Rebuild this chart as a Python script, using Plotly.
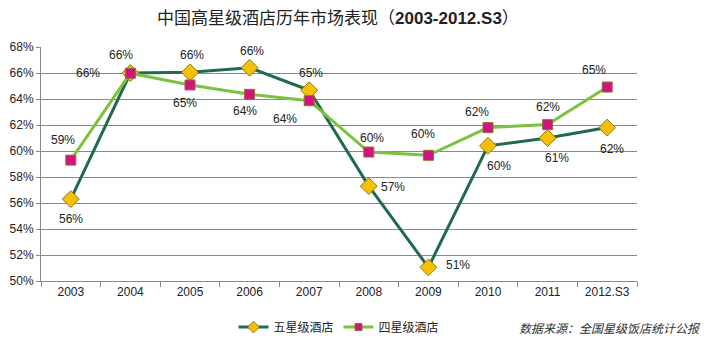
import plotly.graph_objects as go

categories = ["2003", "2004", "2005", "2006", "2007", "2008", "2009", "2010", "2011", "2012.S3"]
five_star = [56.3, 66.0, 66.05, 66.4, 64.67, 57.3, 51.05, 60.4, 61.0, 61.8]
four_star = [59.3, 65.98, 65.08, 64.36, 63.87, 59.92, 59.67, 61.8, 62.03, 64.92]
# label offsets (dx, dy in px) relative to each point
five_off = [(0, -20), (-9, 18), (2, 17), (2, 17), (2, 17), (24, -1), (30, 2), (11, -20), (9, -20), (5, -21)]
four_off = [(-8, 20), (-42, 0), (-5, -18), (-5, -17), (-24, -18), (3, 14), (-5, 21), (-11, 16), (0, 18), (-13, 17)]

font_fam = "Liberation Sans, Arial, Noto Sans CJK SC, sans-serif"
c5_line, c5_mark, c5_edge = "#1F6B4B", "#F6C000", "#8A7A1A"
c4_line, c4_mark, c4_edge = "#7CC241", "#D0137F", "#9A6A3A"

fig = go.Figure()
fig.add_trace(go.Scatter(
    x=categories, y=five_star, name="五星级酒店", mode="lines+markers", showlegend=False,
    line=dict(color=c5_line, width=3), cliponaxis=False,
    marker=dict(symbol="diamond", size=13, color=c5_mark, line=dict(color=c5_edge, width=1)),
))
fig.add_trace(go.Scatter(
    x=categories, y=four_star, name="四星级酒店", mode="lines+markers", showlegend=False,
    line=dict(color=c4_line, width=3), cliponaxis=False,
    marker=dict(symbol="square", size=10, color=c4_mark, line=dict(color=c4_edge, width=1)),
))
# legend entries with smaller symbols
fig.add_trace(go.Scatter(
    x=[None], y=[None], name="五星级酒店", mode="lines+markers",
    line=dict(color=c5_line, width=3),
    marker=dict(symbol="diamond", size=9, color=c5_mark, line=dict(color=c5_edge, width=1)),
))
fig.add_trace(go.Scatter(
    x=[None], y=[None], name="四星级酒店", mode="lines+markers",
    line=dict(color=c4_line, width=3),
    marker=dict(symbol="square", size=7, color=c4_mark, line=dict(color=c4_edge, width=1)),
))

annotations = []
for vals, offs in ((five_star, five_off), (four_star, four_off)):
    for i, (v, (dx, dy)) in enumerate(zip(vals, offs)):
        annotations.append(dict(x=i, y=v, xref="x", yref="y", text=f"{round(v):.0f}%",
                                showarrow=False, xshift=dx, yshift=dy,
                                font=dict(size=12, color="#222", family=font_fam)))
annotations.append(dict(text="<i>数据来源：全国星级饭店统计公报</i>", x=1.11, xref="paper", xanchor="right",
                        y=-0.165, yref="paper", yanchor="top", showarrow=False,
                        font=dict(size=12, color="#333")))

fig.update_layout(
    width=707, height=338,
    margin=dict(l=41, r=70, t=47, b=57, autoexpand=False),
    paper_bgcolor="white", plot_bgcolor="white",
    font=dict(family=font_fam, size=12, color="#222"),
    title=dict(text="中国高星级酒店历年市场表现（<b>2003-2012.S3</b>）", x=0.478, xanchor="center",
               y=0.947, yanchor="middle", font=dict(size=17, color="#222")),
    showlegend=True,
    legend=dict(orientation="h", x=0.5, xanchor="center", y=-0.135, yanchor="top",
                font=dict(size=12), itemwidth=30, tracegroupgap=0),
    annotations=annotations,
)
fig.update_xaxes(type="category", categoryorder="array", categoryarray=categories,
                 range=[-0.5, len(categories) - 0.5], autorange=False,
                 showline=True, linecolor="#888", linewidth=1,
                 ticks="outside", tickson="boundaries", ticklen=5, tickcolor="#888",
                 showgrid=False, tickfont=dict(size=12), tickangle=0)
fig.update_yaxes(range=[50, 68], dtick=2, ticksuffix="%", showgrid=True, gridcolor="#8a8a8a",
                 gridwidth=1, showline=True, linecolor="#888", ticks="outside", ticklen=4,
                 tickcolor="#888", zeroline=False, tickfont=dict(size=12))
fig.write_html("out.html")
